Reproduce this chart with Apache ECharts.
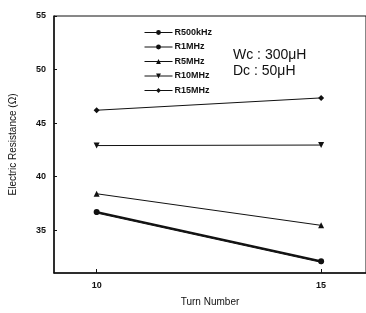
<!DOCTYPE html>
<html>
<head>
<meta charset="utf-8">
<script src="https://cdn.jsdelivr.net/npm/echarts@6/dist/echarts.min.js"></script>
<style>
html,body{margin:0;padding:0;background:#fff;}
#chart{width:366px;height:313px;}
</style>
</head>
<body>
<div id="chart"></div>
<script>
// values
const turns = [10, 15]
const seriesNames = ["R500kHz", "R1MHz", "R5MHz", "R10MHz", "R15MHz"]
const r500k = [36.7, 32.1]
const r1M = [36.6, 32.0]
const r5M = [38.4, 35.45]
const r10M = [42.9, 42.95]
const r15M = [46.2, 47.35]
const yTicks = [35, 40, 45, 50, 55]

const ink = "#111"
const downTri = "path://M0,0 L10,0 L5,9 Z"

function mkSeries(name, vals, symbol, size, width){
    return {
        name: name,
        type: "line",
        data: turns.map((t, i) => [t, vals[i]]),
        symbol: symbol,
        symbolSize: size,
        showSymbol: true,
        lineStyle: { color: ink, width: width },
        itemStyle: { color: ink },
        z: 3
    }
}

let chart = echarts.init(document.getElementById("chart"))
chart.setOption({
    animation: false,
    backgroundColor: "#fff",
    textStyle: { fontFamily: "Liberation Sans, Arial, sans-serif", color: ink },
    grid: {
        left: 53, top: 16, right: -3, bottom: 40,
        show: true, borderColor: ink, borderWidth: 1
    },
    legend: {
        left: 139, top: 23,
        orient: "vertical",
        itemGap: 5.5,
        itemWidth: 28,
        itemHeight: 6,
        lineStyle: { width: 1 },
        textStyle: { fontSize: 9, color: ink, fontWeight: "bold", padding: [0, 0, 0, -3] },
        data: seriesNames
    },
    graphic: [
        { type: "text", left: 233, top: 48, style: { text: "Wc : 300\u03bcH", fill: ink, font: "14px Liberation Sans, Arial, sans-serif" } },
        { type: "text", left: 233, top: 64, style: { text: "Dc : 50\u03bcH", fill: ink, font: "14px Liberation Sans, Arial, sans-serif" } }
    ],
    xAxis: {
        type: "value",
        min: 9.05, max: 16,
        interval: 5,
        name: "Turn Number",
        nameLocation: "middle",
        nameGap: 24,
        nameTextStyle: { fontSize: 10, color: ink },
        axisLine: { lineStyle: { color: ink, width: 1.5 } },
        axisLabel: {
            fontSize: 9, fontWeight: "bold", color: ink,
            customValues: turns
        },
        axisTick: { inside: true, length: 4, customValues: turns, lineStyle: { color: ink } },
        splitLine: { show: false }
    },
    yAxis: {
        type: "value",
        min: 31, max: 55,
        name: "Electric Resistance (\u03a9)",
        nameLocation: "middle",
        nameGap: 36,
        nameTextStyle: { fontSize: 10, color: ink },
        axisLine: { show: true, lineStyle: { color: ink, width: 1.5 } },
        axisTick: { show: true, inside: true, length: 3, customValues: yTicks, lineStyle: { color: ink } },
        axisLabel: { fontSize: 9, fontWeight: "bold", color: ink, customValues: yTicks, margin: 8 },
        splitLine: { show: false }
    },
    series: [
        mkSeries("R500kHz", r500k, "circle", 6, 2.2),
        mkSeries("R1MHz", r1M, "circle", 4, 1),
        mkSeries("R5MHz", r5M, "triangle", 6, 1),
        mkSeries("R10MHz", r10M, downTri, 6, 1),
        mkSeries("R15MHz", r15M, "diamond", 6, 1)
    ]
})
</script>
</body>
</html>
